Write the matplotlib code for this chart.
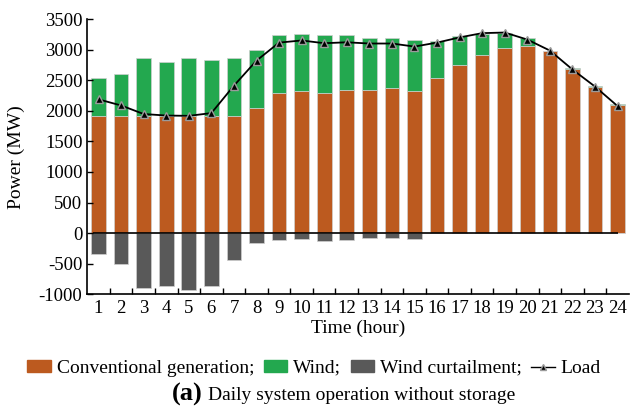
import matplotlib
matplotlib.use('Agg')
import matplotlib.pyplot as plt
from matplotlib.lines import Line2D
from matplotlib.patches import Patch
import numpy as np

# Hourly values (MW)
hours = list(range(1, 25))
conventional = [1925, 1925, 1925, 1920, 1920, 1925, 1925, 2050, 2300, 2330, 2300, 2340,
                2350, 2380, 2325, 2540, 2755, 2910, 3035, 3060, 2980, 2695, 2400, 2105]
wind = [620, 685, 935, 875, 940, 910, 935, 945, 945, 930, 940, 905,
        845, 815, 830, 610, 470, 355, 250, 130, 5, 5, 5, 10]
curtailment = [-350, -500, -900, -870, -940, -870, -445, -170, -115, -105, -130, -115,
               -85, -75, -105, 0, 0, 0, 0, 0, 0, 0, 0, 0]
load = [2190, 2090, 1950, 1925, 1920, 1965, 2415, 2825, 3120, 3155, 3110, 3125,
        3105, 3105, 3055, 3120, 3205, 3275, 3285, 3170, 2990, 2680, 2400, 2080]
yticks = list(range(-1000, 3501, 500))

c_conv = '#BC5A1F'
c_wind = '#23A84F'
c_curt = '#595959'

plt.rcParams['font.family'] = ['Liberation Serif', 'DejaVu Serif']
plt.rcParams['axes.unicode_minus'] = False

fig = plt.figure(figsize=(6.32, 4.13), dpi=100)
ax = fig.add_axes([0.137, 0.288, 0.858, 0.665])

w = 0.65
ax.bar(hours, conventional, width=w, color=c_conv, edgecolor='#d0d0d0', linewidth=0.5)
ax.bar(hours, wind, width=w, bottom=conventional, color=c_wind, edgecolor='#d0d0d0', linewidth=0.5)
ax.bar(hours, curtailment, width=w, color=c_curt, edgecolor='#d0d0d0', linewidth=0.5)
ax.hlines(0, 0.75, 24, color='black', linewidth=1.2, zorder=3)
ax.plot(hours, load, color='black', linewidth=1.3, marker='^', markersize=6,
        markerfacecolor='black', markeredgecolor='#9a9a9a', markeredgewidth=1.0, zorder=4)

ax.set_xlim(0.47, 24.5)
ax.set_ylim(-1000, 3500)
ax.set_yticks(yticks)
ax.set_xticks(hours)
ax.set_xticks(np.arange(1.5, 24.5, 1), minor=True)
ax.tick_params(axis='x', which='major', length=0, labelsize=13.5, pad=4)
ax.tick_params(axis='x', which='minor', direction='in', length=4, width=1)
ax.tick_params(axis='y', direction='in', length=4, width=1, labelsize=13.5, pad=3)
for s in ['top', 'right']:
    ax.spines[s].set_visible(False)
for s in ['left', 'bottom']:
    ax.spines[s].set_linewidth(1.2)

ax.set_ylabel('Power (MW)', fontsize=14, labelpad=10)
ax.set_xlabel('Time (hour)', fontsize=14, labelpad=2)

handles = [
    Patch(color=c_conv),
    Patch(color=c_wind),
    Patch(color=c_curt),
    Line2D([], [], color='black', linewidth=1.0, marker='^', markersize=4,
           markerfacecolor='black', markeredgecolor='#9a9a9a'),
]
labels = ['Conventional generation;', 'Wind;', 'Wind curtailment;', 'Load']
fig.legend(handles, labels, loc='center', bbox_to_anchor=(0.497, 0.108), ncol=4,
           frameon=False, fontsize=14, handlelength=1.2, handleheight=0.5,
           handletextpad=0.3, columnspacing=0.5, borderaxespad=0)

fig.text(0.272, 0.045, '(a)', fontsize=19, fontweight='bold', va='center')
fig.text(0.329, 0.043, 'Daily system operation without storage', fontsize=14, va='center')

fig.savefig('out.png', dpi=100)
